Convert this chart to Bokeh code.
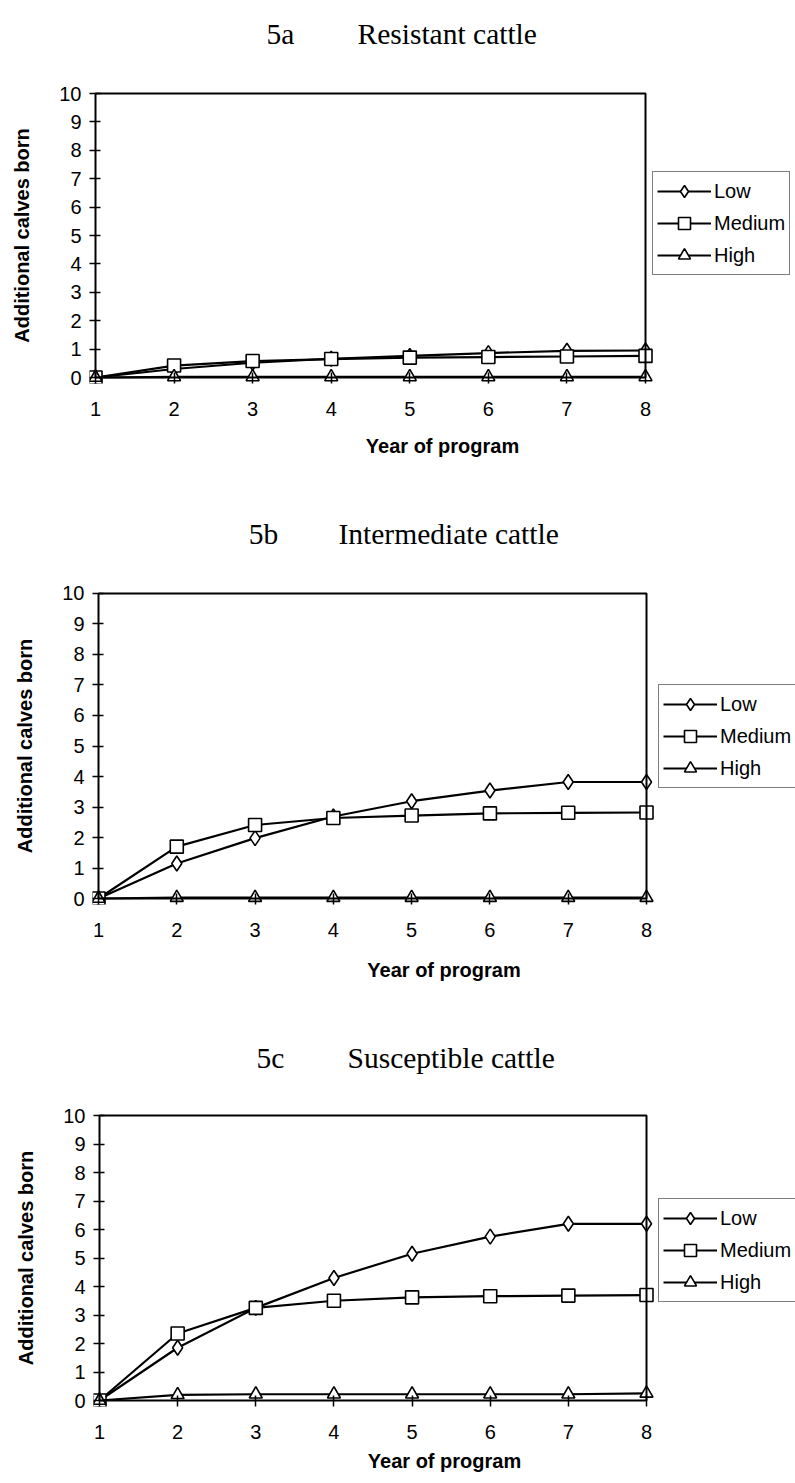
from bokeh.plotting import figure
from bokeh.models import Range1d, FixedTicker, BoxAnnotation, Legend, LegendItem, ColumnDataSource, Title
from bokeh.core.properties import value
from bokeh.embed import file_html
from bokeh.resources import INLINE

# ---------------- data ----------------
YEARS = [1, 2, 3, 4, 5, 6, 7, 8]
Y_TICKS = [0, 1, 2, 3, 4, 5, 6, 7, 8, 9, 10]
SERIES_NAMES = ["Low", "Medium", "High"]
PANEL_TAGS = ["5a", "5b", "5c"]
PANEL_NAMES = ["Resistant cattle", "Intermediate cattle", "Susceptible cattle"]
X_TITLE = "Year of program"
Y_TITLE = "Additional calves born"

RESISTANT_LOW = [0, 0.30, 0.52, 0.66, 0.76, 0.86, 0.94, 0.95]
RESISTANT_MEDIUM = [0, 0.42, 0.58, 0.65, 0.70, 0.72, 0.74, 0.76]
RESISTANT_HIGH = [0, 0.02, 0.02, 0.02, 0.02, 0.02, 0.02, 0.02]

INTERMEDIATE_LOW = [0, 1.15, 1.98, 2.69, 3.19, 3.54, 3.82, 3.82]
INTERMEDIATE_MEDIUM = [0, 1.70, 2.41, 2.64, 2.72, 2.79, 2.81, 2.82]
INTERMEDIATE_HIGH = [0, 0.03, 0.03, 0.03, 0.03, 0.03, 0.03, 0.03]

SUSCEPTIBLE_LOW = [0, 1.85, 3.25, 4.30, 5.15, 5.75, 6.20, 6.20]
SUSCEPTIBLE_MEDIUM = [0, 2.35, 3.25, 3.50, 3.62, 3.66, 3.68, 3.70]
SUSCEPTIBLE_HIGH = [0, 0.20, 0.22, 0.22, 0.22, 0.22, 0.22, 0.25]

X_MIN, X_MAX = 1, 8
Y_MIN, Y_MAX = 0, 10

# ---------------- style / layout ----------------
W = 795
PAD = 6
MARKERS = ["diamond", "square", "triangle"]
MARKER_SIZES = [15, 13, 13]
SANS = "Liberation Sans"
SERIF = "Liberation Serif"

# pixel layout (canvas coordinates) for each panel
LAYOUTS = [
    dict(title_top=0, plot_top=60, bottom=495, xl=95, xr=645, yt=93, yb=377,
         leg_left=652, leg_bottom=275, tag_cx=280, name_left=357, title_base=33,
         xlab_standoff=31, xlab_valign="middle"),
    dict(title_top=495, plot_top=560, bottom=1000, xl=98, xr=646, yt=593, yb=899,
         leg_left=658, leg_bottom=789, tag_cx=263, name_left=338, title_base=533,
         xlab_standoff=37, xlab_valign="middle"),
    dict(title_top=1000, plot_top=1080, bottom=1483, xl=99, xr=646, yt=1115, yb=1400,
         leg_left=658, leg_bottom=1302, tag_cx=270, name_left=347, title_base=1057,
         xlab_standoff=13, xlab_valign="bottom"),
]


def make_title(tag, name, L):
    h = L["plot_top"] - L["title_top"]
    t = figure(width=W, height=h, output_backend="svg", toolbar_location=None,
               x_range=Range1d(0, W), y_range=Range1d(0, h),
               x_axis_type=None, y_axis_type=None, min_border=0)
    t.outline_line_color = None
    t.xgrid.grid_line_color = None
    t.ygrid.grid_line_color = None
    base = h - (L["title_base"] - L["title_top"])
    t.text(x=[L["tag_cx"]], y=[base], text=[tag], text_align="center",
           text_baseline="alphabetic", text_font=value(SERIF), text_font_size="29.5px",
           text_color="black")
    t.text(x=[L["name_left"]], y=[base], text=[name], text_align="left",
           text_baseline="alphabetic", text_font=value(SERIF), text_font_size="29.5px",
           text_color="black")
    return t


def make_panel(series, L):
    ppx = (L["xr"] - L["xl"]) / (X_MAX - X_MIN)
    ppy = (L["yb"] - L["yt"]) / (Y_MAX - Y_MIN)
    fl = L["xl"] - PAD
    fr = W                      # frame runs to the right edge; legend sits inside it
    ft = L["yt"] - PAD
    fb = L["yb"] + PAD
    p = figure(width=W, height=L["bottom"] - L["plot_top"], output_backend="svg",
               toolbar_location=None,
               x_range=Range1d(X_MIN - PAD / ppx, X_MAX + (fr - L["xr"]) / ppx),
               y_range=Range1d(Y_MIN - PAD / ppy, Y_MAX + PAD / ppy),
               min_border_left=fl,
               min_border_right=0,
               min_border_top=ft - L["plot_top"],
               min_border_bottom=L["bottom"] - fb)
    p.outline_line_color = None
    p.xgrid.grid_line_color = None
    p.ygrid.grid_line_color = None

    p.xaxis.ticker = FixedTicker(ticks=YEARS)
    p.yaxis.ticker = FixedTicker(ticks=Y_TICKS)
    p.yaxis.axis_label = Y_TITLE
    for ax in (p.xaxis[0], p.yaxis[0]):
        ax.axis_line_color = None
        ax.major_tick_in = 11
        ax.major_tick_out = 0
        ax.major_tick_line_color = "black"
        ax.major_tick_line_width = 1.5
        ax.minor_tick_line_color = None
        ax.major_label_text_font = SANS
        ax.major_label_text_font_size = "20px"
        ax.major_label_text_color = "black"
        ax.axis_label_text_font = SANS
        ax.axis_label_text_font_size = "20px"
        ax.axis_label_text_font_style = "bold"
        ax.axis_label_text_color = "black"
    p.xaxis.major_label_standoff = 18
    p.yaxis.major_label_standoff = 8
    p.yaxis.axis_label_standoff = 23

    # x-axis title, centred under the plot area (not under the wider frame)
    frame_cx = (fl + fr) / 2
    axis_cx = (L["xl"] + L["xr"]) / 2
    p.add_layout(Title(text=X_TITLE, align="center", offset=axis_cx - frame_cx,
                       standoff=L["xlab_standoff"], vertical_align=L["xlab_valign"],
                       text_font=SANS, text_font_size="20px",
                       text_font_style="bold", text_color="black"), "below")

    p.add_layout(BoxAnnotation(left=X_MIN, right=X_MAX, bottom=Y_MIN, top=Y_MAX,
                               fill_color=None, fill_alpha=0,
                               line_color="black", line_alpha=1, line_width=2))

    items = []
    for sname, vals, mk, sz in zip(SERIES_NAMES, series, MARKERS, MARKER_SIZES):
        src = ColumnDataSource(dict(x=YEARS, y=vals))
        r1 = p.line("x", "y", source=src, line_color="black", line_width=2.2)
        r2 = p.scatter("x", "y", source=src, marker=mk, size=sz, fill_color="white",
                       line_color="black", line_width=1.6)
        items.append(LegendItem(label=sname, renderers=[r1, r2]))

    legend = Legend(items=items, location=(L["leg_left"] - fl, fb - L["leg_bottom"]),
                    padding=4, spacing=2, margin=0,
                    glyph_width=54, glyph_height=30, label_height=20, label_standoff=3,
                    label_text_font=SANS, label_text_font_size="20px",
                    label_text_color="black",
                    border_line_color="black", border_line_width=1.5,
                    background_fill_color="white", background_fill_alpha=1)
    p.add_layout(legend)
    return p


ALL_SERIES = [
    [RESISTANT_LOW, RESISTANT_MEDIUM, RESISTANT_HIGH],
    [INTERMEDIATE_LOW, INTERMEDIATE_MEDIUM, INTERMEDIATE_HIGH],
    [SUSCEPTIBLE_LOW, SUSCEPTIBLE_MEDIUM, SUSCEPTIBLE_HIGH],
]

roots = []
for tag, name, series, L in zip(PANEL_TAGS, PANEL_NAMES, ALL_SERIES, LAYOUTS):
    roots.append(make_title(tag, name, L))
    roots.append(make_panel(series, L))

open("out.html", "w").write(file_html(roots, INLINE))
